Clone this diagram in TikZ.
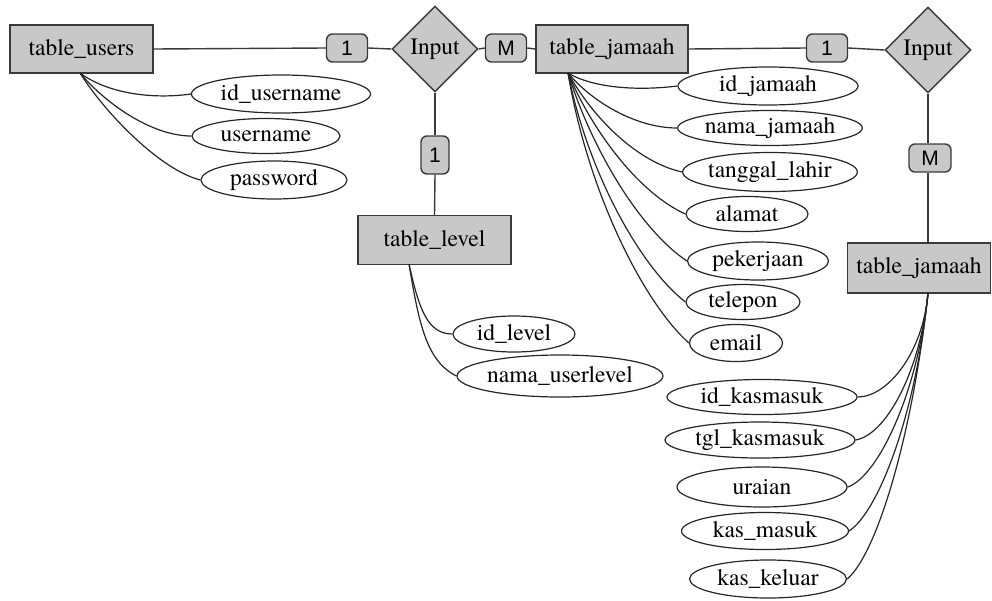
\documentclass[tikz,border=0pt]{standalone}
\usepackage{fontspec}
\setmainfont{texgyretermes}[Extension=.otf,UprightFont=*-regular,BoldFont=*-bold,ItalicFont=*-italic,BoldItalicFont=*-bolditalic]
\newfontfamily\cardfont{Liberation Sans}
\usetikzlibrary{shapes.geometric}
\definecolor{boxfill}{HTML}{C8C8C8}
\definecolor{edgecol}{HTML}{3A3A3A}
\begin{document}
\begin{tikzpicture}[x=1pt,y=-1pt,
  entity/.style={draw=edgecol,fill=boxfill,line width=1.4pt,minimum height=48pt,inner sep=0pt,font=\fontsize{23.5}{25}\selectfont},
  relation/.style={diamond,draw=edgecol,fill=boxfill,line width=1.4pt,minimum width=86pt,minimum height=86pt,inner sep=0pt,font=\fontsize{23.5}{25}\selectfont},
  card/.style={draw=edgecol,fill=boxfill,line width=1.4pt,rounded corners=6pt,minimum width=41pt,minimum height=28pt,inner sep=0pt,font=\cardfont\fontsize{21}{22}\selectfont},
  attr/.style={ellipse,draw=black!85,line width=1.2pt,inner sep=0pt,font=\fontsize{23.5}{25}\selectfont},
  link/.style={draw=edgecol,line width=1.4pt},
  curve/.style={draw=black!85,line width=1.2pt}]
\useasboundingbox (0,0) rectangle (992,600);
% entities
\node[entity,minimum width=143pt] (tu) at (81.5,49) {table\_users};
\node[entity,minimum width=152pt] (tj) at (612,49) {table\_jamaah};
\node[entity,minimum width=153pt,minimum height=49pt] (tl) at (434.5,240) {table\_level};
\node[entity,minimum width=143pt,minimum height=50pt] (tk) at (919,268) {table\_jamaah};
% relations
\node[relation] (r1) at (435,49) {Input};
\node[relation] (r2) at (928,50) {Input};
% cardinalities
\node[card] (c1) at (347,48) {1};
\node[card] (c2) at (506,48) {M};
\node[card,minimum width=28pt,minimum height=38pt] (c3) at (435,155) {1};
\node[card] (c4) at (827,48) {1};
\node[card,minimum width=42pt] (c5) at (930,158) {M};
% links
\draw[link] (tu.east) -- (c1.west);
\draw[link] (c1.east) -- (r1.west);
\draw[link] (r1.east) -- (c2.west);
\draw[link] (c2.east) -- (tj.west);
\draw[link] (r1.south) -- (c3.north);
\draw[link] (c3.south) -- (tl.north);
\draw[link] (tj.east) -- (c4.west);
\draw[link] (c4.east) -- (r2.west);
\draw[link] (r2.south) -- (r2.south |- c5.north);
\draw[link] (r2.south |- c5.south) -- (r2.south |- tk.north);
% attributes table_users
\node[attr,minimum width=179pt,minimum height=38pt] (a1) at (281,94) {id\_username};
\node[attr,minimum width=148pt,minimum height=35pt] (a2) at (266,136) {username};
\node[attr,minimum width=146pt,minimum height=38pt] (a3) at (274,180) {password};
\coordinate (tuo) at (80,73);
\draw[curve] (tuo) .. controls +(30,22) and +(-35,5) .. (a1.west);
\draw[curve] (tuo) .. controls +(25,30) and +(-40,0) .. (a2.west);
\draw[curve] (tuo) .. controls +(25,40) and +(-40,-10) .. (a3.west);
% attributes table_level
\node[attr,minimum width=122pt,minimum height=36pt] (l1) at (514,334) {id\_level};
\node[attr,minimum width=194pt,minimum height=42pt] (l2) at (560,376) {nama\_userlevel};
\coordinate (tlo) at (409,264);
\draw[curve] (tlo) .. controls +(10,45) and +(-25,0) .. (l1.west);
\draw[curve] (tlo) .. controls +(10,60) and +(-30,-15) .. (l2.west);
% attributes table_jamaah
\node[attr,minimum width=180pt,minimum height=38pt] (j1) at (768,86) {id\_jamaah};
\node[attr,minimum width=181pt,minimum height=35pt] (j2) at (770,128) {nama\_jamaah};
\node[attr,minimum width=164pt,minimum height=39pt] (j3) at (770,172) {tanggal\_lahir};
\node[attr,minimum width=122pt,minimum height=35pt] (j4) at (747,214) {alamat};
\node[attr,minimum width=141pt,minimum height=38pt] (j5) at (758,261) {pekerjaan};
\node[attr,minimum width=114pt,minimum height=35pt] (j6) at (743,302) {telepon};
\node[attr,minimum width=93pt,minimum height=37pt] (j7) at (736,343) {email};
\coordinate (tjo) at (568,73);
\draw[curve] (tjo) .. controls +(25,15) and +(-40,5) .. (j1.west);
\draw[curve] (tjo) .. controls +(25,30) and +(-40,0) .. (j2.west);
\draw[curve] (tjo) .. controls +(25,45) and +(-45,-10) .. (j3.west);
\draw[curve] (tjo) .. controls +(25,60) and +(-45,-20) .. (j4.west);
\draw[curve] (tjo) .. controls +(25,80) and +(-45,-30) .. (j5.west);
\draw[curve] (tjo) .. controls +(20,100) and +(-45,-35) .. (j6.west);
\draw[curve] (tjo) .. controls +(20,120) and +(-45,-40) .. (j7.west);
% attributes table_jamaah (kas)
\node[attr,minimum width=190pt,minimum height=35pt] (k1) at (762,397) {id\_kasmasuk};
\node[attr,minimum width=190pt,minimum height=36pt] (k2) at (760,440) {tgl\_kasmasuk};
\node[attr,minimum width=170pt,minimum height=40pt] (k3) at (762,487) {uraian};
\node[attr,minimum width=167pt,minimum height=37pt] (k4) at (765,531) {kas\_masuk};
\node[attr,minimum width=157pt,minimum height=38pt] (k5) at (768,579) {kas\_keluar};
\coordinate (tko) at (928,293);
\draw[curve] (tko) .. controls +(-5,60) and +(30,0) .. (k1.east);
\draw[curve] (tko) .. controls +(-8,80) and +(30,-5) .. (k2.east);
\draw[curve] (tko) .. controls +(-10,100) and +(30,-10) .. (k3.east);
\draw[curve] (tko) .. controls +(-12,120) and +(30,-20) .. (k4.east);
\draw[curve] (tko) .. controls +(-15,140) and +(30,-25) .. (k5.east);
\end{tikzpicture}
\end{document}
